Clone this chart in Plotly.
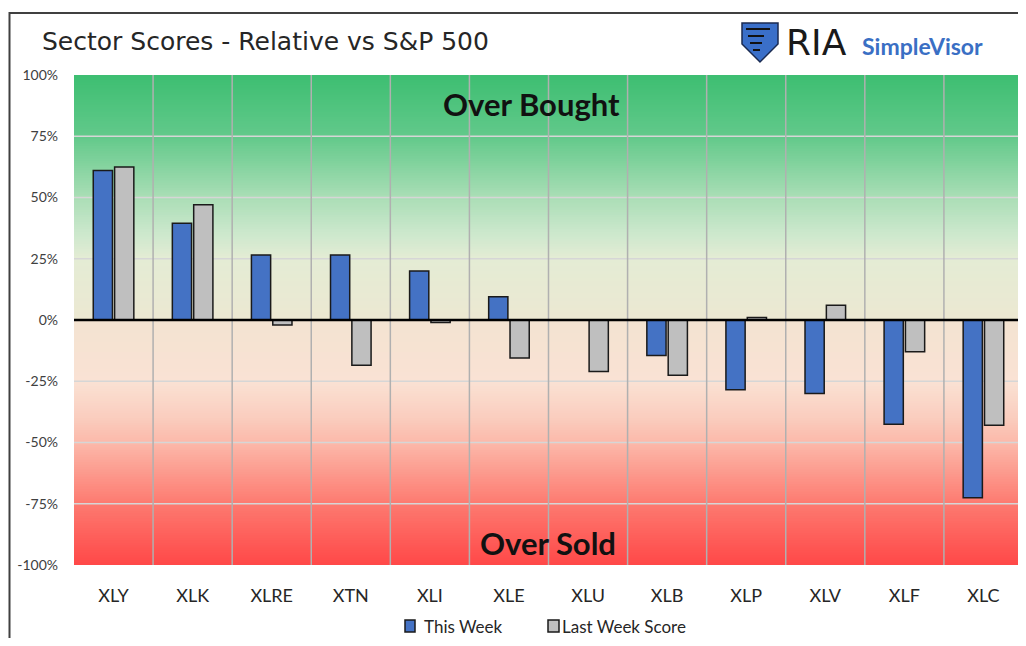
import plotly.graph_objects as go

categories = ["XLY", "XLK", "XLRE", "XTN", "XLI", "XLE", "XLU", "XLB", "XLP", "XLV", "XLF", "XLC"]
this_week = [61, 39.5, 26.5, 26.5, 20, 9.5, 0, -14.5, -28.5, -30, -42.5, -72.5]
last_week = [62.5, 47, -2, -18.5, -1, -15.5, -21, -22.5, 1, 6, -13, -43]
y_ticks = [100, 75, 50, 25, 0, -25, -50, -75, -100]
y_tick_text = ["100%", "75%", "50%", "25%", "0%", "-25%", "-50%", "-75%", "-100%"]

# page has an 8px body margin; figure sized to fit the 1026x646 window exactly
OFF = 8
W, H = 1018, 630
PL, PR, PT, PB = 74, 1023, 75, 565  # plot area in page pixels
L, T = PL - OFF, PT - OFF
R, B = W - (PR - OFF), H - (PB - OFF)
PW, PH = PR - PL, PB - PT


def px(x):
    return (x - PL) / PW


def py(y):
    return (PB - y) / PH


# background gradient stops (value, rgb)
stops = [
    (100, (61, 190, 114)),
    (75, (98, 201, 138)),
    (50, (170, 222, 182)),
    (35, (205, 232, 205)),
    (25, (228, 236, 212)),
    (0.01, (236, 232, 210)),
    (-0.01, (243, 227, 209)),
    (-25, (250, 226, 212)),
    (-40, (250, 205, 190)),
    (-50, (252, 185, 170)),
    (-75, (253, 122, 112)),
    (-100, (255, 72, 72)),
]


def color_at(v):
    for (v0, c0), (v1, c1) in zip(stops[:-1], stops[1:]):
        if v1 <= v <= v0:
            t = (v0 - v) / (v0 - v1)
            c = [round(a + (b - a) * t) for a, b in zip(c0, c1)]
            return "rgb(%d,%d,%d)" % tuple(c)
    return "rgb(%d,%d,%d)" % stops[-1][1]


shapes = []
step = 1
v = 100
while v > -100:
    mid = v - step / 2
    shapes.append(dict(type="rect", xref="paper", yref="y", x0=0, x1=1,
                       y0=max(v - step - 0.6, -100), y1=v,
                       fillcolor=color_at(mid), line=dict(width=0), layer="below"))
    v -= step

# horizontal gridlines
for t in [75, 50, 25, -25, -50, -75]:
    shapes.append(dict(type="line", xref="paper", yref="y", x0=0, x1=1, y0=t, y1=t,
                       line=dict(color="#d6d6d6", width=1.5), layer="below"))
# vertical category separators
for i in range(1, len(categories)):
    shapes.append(dict(type="line", xref="x", yref="paper", x0=i - 0.5, x1=i - 0.5, y0=0, y1=1,
                       line=dict(color="#b0b0b0", width=1.5), layer="below"))
# zero line
shapes.append(dict(type="line", xref="paper", yref="y", x0=0, x1=1, y0=0, y1=0,
                   line=dict(color="#000000", width=2.5), layer="above"))
# outer frame
shapes.append(dict(type="rect", xref="paper", yref="paper", x0=px(9.5), x1=px(1040), y0=py(13), y1=py(700),
                   line=dict(color="#404040", width=2), fillcolor="rgba(0,0,0,0)", layer="above"))
# logo shield
shield = [(742, 23), (778, 23), (778, 44), (760, 62), (742, 44)]
path = "M " + " L ".join("%f,%f" % (px(a), py(b)) for a, b in shield) + " Z"
shapes.append(dict(type="path", xref="paper", yref="paper", path=path,
                   fillcolor="#3a6fc9", line=dict(color="#1a2a50", width=1.5), layer="above"))
for (a0, b0, a1, b1) in [(746, 29, 770, 29), (748, 36, 764, 36), (750, 43, 762, 43), (753, 50, 760, 50)]:
    shapes.append(dict(type="line", xref="paper", yref="paper", x0=px(a0), y0=py(b0), x1=px(a1), y1=py(b1),
                       line=dict(color="#111111", width=2), layer="above"))
# manual legend swatches
LEG_Y = 626
for (a0, a1, col) in [(405, 415, "#4472c4"), (548, 559, "#bfbfbf")]:
    shapes.append(dict(type="rect", xref="paper", yref="paper", x0=px(a0), x1=px(a1),
                       y0=py(LEG_Y + 6), y1=py(LEG_Y - 6),
                       fillcolor=col, line=dict(color="#1a1a1a", width=1.5), layer="above"))

fig = go.Figure()
fig.add_trace(go.Bar(x=categories, y=this_week, name="This Week",
                     marker=dict(color="#4472c4", line=dict(color="#1a1a1a", width=1.5))))
fig.add_trace(go.Bar(x=categories, y=last_week, name="Last Week Score",
                     marker=dict(color="#bfbfbf", line=dict(color="#1a1a1a", width=1.5))))

annotations = [
    dict(text="Sector Scores - Relative vs S&P 500", xref="paper", yref="paper", x=px(40), y=py(41),
         xanchor="left", yanchor="middle", showarrow=False,
         font=dict(family="DejaVu Sans", size=25, color="#262626")),
    dict(text="RIA", xref="paper", yref="paper", x=px(784), y=py(42), xanchor="left", yanchor="middle",
         showarrow=False, font=dict(family="DejaVu Sans", size=36, color="#1a1a1a")),
    dict(text="<b>SimpleVisor</b>", xref="paper", yref="paper", x=px(860), y=py(46), xanchor="left",
         yanchor="middle", showarrow=False, font=dict(family="Lato", size=23, color="#3a6fc4")),
    dict(text="<b>Over Bought</b>", xref="paper", yref="y", x=px(531), y=88, xanchor="center", yanchor="middle",
         showarrow=False, font=dict(family="Lato", size=31, color="#111111")),
    dict(text="<b>Over Sold</b>", xref="paper", yref="y", x=px(548), y=-91, xanchor="center", yanchor="middle",
         showarrow=False, font=dict(family="Lato", size=31, color="#111111")),
    dict(text="This Week", xref="paper", yref="paper", x=px(423), y=py(LEG_Y), xanchor="left", yanchor="middle",
         showarrow=False, borderpad=0, font=dict(family="Lato", size=17, color="#262626")),
    dict(text="Last Week Score", xref="paper", yref="paper", x=px(561), y=py(LEG_Y), xanchor="left",
         yanchor="middle", showarrow=False, borderpad=0, font=dict(family="Lato", size=17, color="#262626")),
]

fig.update_layout(
    width=W, height=H,
    margin=dict(l=L, r=R, t=T, b=B, autoexpand=False),
    paper_bgcolor="white", plot_bgcolor="white",
    barmode="group", bargap=0.46, bargroupgap=0.1,
    shapes=shapes, annotations=annotations,
    showlegend=False,
    xaxis=dict(showgrid=False, zeroline=False, showline=False, ticks="",
               tickfont=dict(family="Lato", size=18, color="#262626"), ticklabelstandoff=18,
               range=[-0.5, len(categories) - 0.5]),
    yaxis=dict(range=[-100, 100], tickvals=y_ticks, ticktext=y_tick_text, showgrid=False,
               zeroline=False, showline=False, ticks="",
               tickfont=dict(family="Lato", size=14, color="#404040"), ticklabelstandoff=15),
)

fig.write_html("out.html")
